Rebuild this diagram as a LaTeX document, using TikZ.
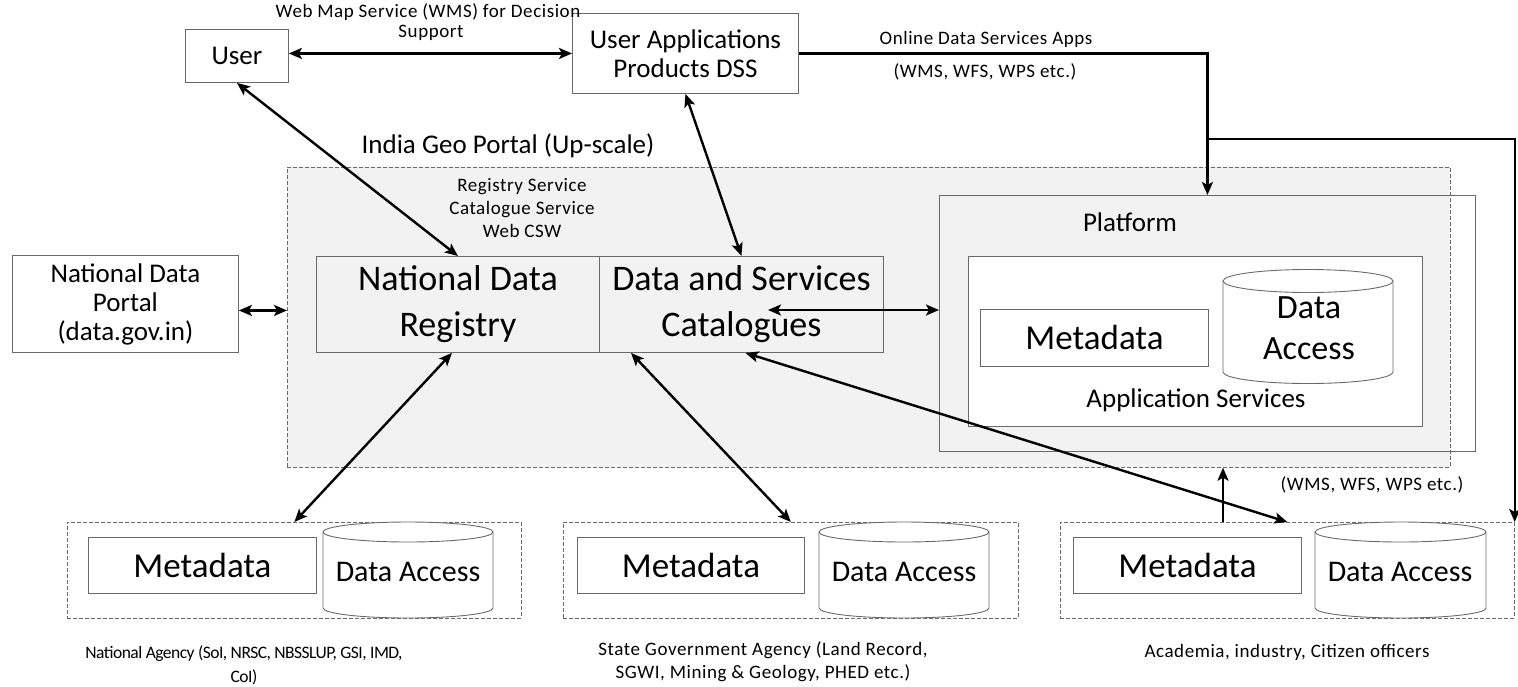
\documentclass[tikz,border=0pt]{standalone}
\usepackage{fontspec}
\setmainfont{Carlito}
\newfontfamily\smallfont[LetterSpace=3]{Carlito}
\newfontfamily\tightfont[LetterSpace=-3]{Carlito}
\usetikzlibrary{arrows.meta}
\definecolor{bord}{HTML}{6A6A6A}
\definecolor{pfill}{HTML}{F2F2F2}
\newcommand\fsz[2]{\fontsize{#1}{#2}\selectfont}
\newcommand\dbcyl[5]{%
  \draw[bord, line width=0.9pt, fill=white] (#1,#3) -- (#1,#4) arc[start angle=180, end angle=0, x radius={(#2-#1)/2}, y radius=#5] -- (#2,#3);
  \draw[bord, line width=0.9pt, fill=white] ({(#1+#2)/2},#3) ellipse[x radius={(#2-#1)/2}, y radius=#5];
}
\begin{document}
\begin{tikzpicture}[x=1pt,y=-1pt,
  box/.style={draw=bord, line width=0.9pt, inner sep=0pt, anchor=north west, align=center},
  dbox/.style={draw=bord, line width=0.7pt, dash pattern=on 4pt off 2pt, inner sep=0pt, anchor=north west},
  arr/.style={line width=2.4pt, {Stealth[length=13pt,width=11pt,inset=3pt]}-{Stealth[length=13pt,width=11pt,inset=3pt]}},
  arrone/.style={line width=2.4pt, -{Stealth[length=13pt,width=11pt,inset=3pt]}},
  smalltxt/.style={font=\smallfont\fsz{19}{23}, inner sep=0pt, align=center},
  midtxt/.style={font=\fsz{27}{29}},
  bigtxt/.style={font=\fsz{36}{46}},
  metatxt/.style={font=\fsz{35}{40}}
]
\fill[white] (0,0) rectangle (1518,686);
\useasboundingbox (0,0) rectangle (1518,686);

% portal
\node[dbox, fill=pfill, minimum width=1163pt, minimum height=300pt] (portal) at (287,167) {};
\node[midtxt] (igp) at (508,146) {India Geo Portal (Up-scale)};
\node[smalltxt] (reg) at (522,208) {Registry Service\\Catalogue Service\\Web CSW};

\node[box, minimum width=283pt, minimum height=96pt, bigtxt] (ndr) at (316,256) {National Data\\Registry};
\node[box, minimum width=284pt, minimum height=96pt, bigtxt] (dsc) at (599,256) {Data and Services\\Catalogues};

% platform
\node[box, minimum width=536pt, minimum height=256pt] (platform) at (939,195) {};
\node[midtxt] (plat) at (1130,222) {Platform};
\node[box, fill=white, minimum width=454pt, minimum height=170pt] (appsvc) at (968,256) {};
\node[box, fill=white, minimum width=228pt, minimum height=57pt, metatxt] (pmeta) at (980,309) {Metadata};
\dbcyl{1223}{1393}{281}{372}{11.5}
\node[font=\fsz{34}{41}, align=center] (pdata) at (1309,328) {Data\\Access};
\node[midtxt] (apptxt) at (1196,400) {Application Services};

% top
\node[box, minimum width=103pt, minimum height=53pt, midtxt] (user) at (185,29) {User};
\node[box, minimum width=226pt, minimum height=80pt, midtxt] (ua) at (572,13) {User Applications\\Products DSS};
\node[box, fill=white, minimum width=226pt, minimum height=97pt, midtxt] (ndp) at (12,255) {National Data\\Portal\\(data.gov.in)};

\node[smalltxt] (wms1) at (428,12) {Web Map Service (WMS) for Decision};
\node[smalltxt] (wms2) at (431,33) {Support};
\node[smalltxt] (odsa) at (986,39) {Online Data Services Apps};
\node[smalltxt] (odsa2) at (985,72) {(WMS, WFS, WPS etc.)};
\node[smalltxt] (wms3) at (1372,485) {(WMS, WFS, WPS etc.)};

% bottom groups
\node[dbox, minimum width=454pt, minimum height=96pt] (na) at (67,522) {};
\node[box, fill=white, minimum width=228pt, minimum height=56pt, metatxt] (nameta) at (88,537) {Metadata};
\dbcyl{323}{493}{532}{608}{10}
\node[font=\fsz{30}{36}] (nadata) at (408,572) {Data Access};

\node[dbox, minimum width=455pt, minimum height=96pt] (sga) at (563,522) {};
\node[box, fill=white, minimum width=227pt, minimum height=56pt, metatxt] (sgameta) at (577,537) {Metadata};
\dbcyl{819}{989}{532}{608}{10}
\node[font=\fsz{30}{36}] (sgadata) at (904,572) {Data Access};

\node[dbox, minimum width=454pt, minimum height=96pt] (ac) at (1060,522) {};
\node[box, fill=white, minimum width=228pt, minimum height=56pt, metatxt] (acmeta) at (1073,537) {Metadata};
\dbcyl{1315}{1486}{532}{608}{10}
\node[font=\fsz{30}{36}] (acdata) at (1400,572) {Data Access};

\node[font=\tightfont\fsz{17.5}{24}, inner sep=0pt, align=center] (nalbl) at (244,665) {National Agency (SoI, NRSC, NBSSLUP, GSI, IMD,\\CoI)};
\node[smalltxt] (sgalbl) at (763,662) {State Government Agency (Land Record,\\SGWI, Mining \& Geology, PHED etc.)};
\node[smalltxt] (aclbl) at (1287,652) {Academia, industry, Citizen officers};

% connectors
\draw[arr] (ua.west -| user.east) -- (ua.west);
\draw[arr] (user.south) -- (ndr.north);
\draw[arr] (ua.south) -- (dsc.north);
\draw[arrone] (ua.east) -| (platform.north);
\coordinate (br) at (1207,139);
\draw[arrone] (br) -| (ac.north east);
\draw[arr] ([yshift=-6.5pt]ndp.east) -- ([yshift=-6.5pt]ndp.east -| portal.west);
\coordinate (dscin) at (768,310);
\draw[arr] (dscin) -- (dscin -| platform.west);
\draw[arr] ([xshift=-6pt]ndr.south) -- (na.north);
\draw[arr] ([xshift=32pt]dsc.south west) -- (sga.north);
\draw[arr] ([xshift=4pt]dsc.south) -- (ac.north);
\draw[arrone] ([xshift=163pt]ac.north west) -- ([xshift=163pt]ac.north west |- portal.south);
\end{tikzpicture}
\end{document}
